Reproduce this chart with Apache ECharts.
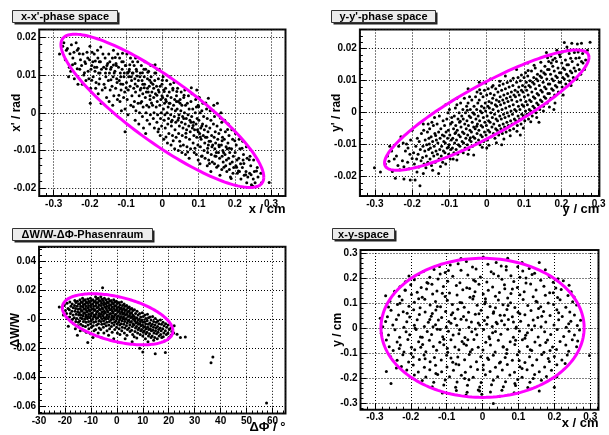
<!DOCTYPE html>
<html><head><meta charset="utf-8">
<script src="https://cdn.jsdelivr.net/npm/echarts@6/dist/echarts.min.js"></script>
<style>html,body{margin:0;padding:0;background:#fff}#c{width:609px;height:435px}</style>
</head><body><div id="c"></div>
<script>
// ---- panel titles and axis titles ----
const panelTitles = ["x-x'-phase space", "y-y'-phase space", "\u0394W/W-\u0394\u03A6-Phasenraum", "x-y-space"];
const xNames = ["x / cm", "y / cm", "\u0394\u03A6 / \u00B0", "x / cm"];
const yNames = ["x' / rad", "y' / rad", "\u0394W/W", "y / cm"];

// ---- ellipses: [centreX, centreY, halfWidthX, yAtMaxX, halfHeightAtCentre] ----
const ellipseXXp = [0, .0005, .28, -.0175, .0102];
const ellipseYYp = [0, .0008, .274, .0165, .009];
const ellipseWPhi = [.3, 0, 21.3, -.008, .0157];
const ellipseXY = [0, .002, .283, 0, .277];

// ---- particles: x-x' (cm, rad) ----
const pointsXXp = [
[-.284,.0155],[-.272,.0185],[-.268,.014],[-.262,.017],[-.257,.012],[-.259,.0095],[-.251,.018],[-.247,.0145],[-.253,.011],[-.244,.016],
[-.238,.0185],[-.241,.013],[-.235,.0165],[-.243,.009],[-.232,.017],[-.228,.0115],[-.226,.014],[-.233,.0075],[-.219,.0155],[-.223,.0125],
[-.217,.010],[-.214,.0135],[-.221,.0075],[-.208,.016],[-.212,.013],[-.205,.011],[-.211,.0085],[-.206,.0145],[-.199,.0025],[-.201,.014],
[-.197,.0115],[-.203,.009],[-.195,.0125],[-.198,.0065],[-.194,.016],[-.188,.0155],[-.192,.0135],[-.186,.011],[-.191,.0095],[-.184,.0065],
[-.187,.012],[-.178,.0145],[-.181,.012],[-.176,.0105],[-.183,.008],[-.177,.005],[-.174,.0135],[-.179,.0165],[-.171,.0135],[-.168,.0115],
[-.173,.009],[-.166,.006],[-.169,.0025],[-.164,.0155],[-.172,.0105],[-.158,.0145],[-.162,.012],[-.156,.0095],[-.161,.0075],[-.154,.004],
[-.157,.0105],[-.153,.0125],[-.148,.0155],[-.151,.013],[-.146,.0105],[-.149,.0085],[-.144,.006],[-.147,.003],[-.143,.0115],[-.145,.0135],
[-.138,.0145],[-.141,.012],[-.136,.0095],[-.139,.007],[-.134,.0045],[-.137,.002],[-.133,.0105],[-.135,.0165],[-.128,.013],[-.131,.011],
[-.126,.009],[-.129,.0065],[-.124,.0035],[-.127,.0125],[-.123,.0155],[-.125,.008],[-.118,.0145],[-.121,.012],[-.116,.0105],[-.119,.0085],
[-.114,.006],[-.117,.003],[-.113,.0005],[-.115,.0095],[-.112,.0135],[-.108,.0135],[-.111,.0115],[-.106,.0095],[-.109,.0075],[-.104,.0055],
[-.107,.004],[-.103,.001],[-.105,.0105],[-.102,.0125],[-.098,.0155],[-.101,.0125],[-.096,.0105],[-.099,.008],[-.094,.006],[-.097,.0035],
[-.095,-.0005],[-.093,.0095],[-.092,.011],[-.103,-.005],[-.088,.0145],[-.091,.0115],[-.086,.0095],[-.089,.007],[-.084,.0045],[-.087,.002],
[-.083,.0105],[-.085,.0085],[-.082,.0135],[-.078,.0125],[-.081,.0105],[-.076,.009],[-.079,.0065],[-.074,.0055],[-.077,.003],[-.073,.0005],
[-.075,-.002],[-.072,.0115],[-.074,.0145],[-.068,.0135],[-.071,.011],[-.066,.0085],[-.069,.007],[-.064,.0045],[-.067,.0025],[-.063,0],
[-.065,-.003],[-.062,.0095],[-.061,.006],[-.058,.0125],[-.061,.0105],[-.056,.0085],[-.059,.0065],[-.054,.005],[-.057,.003],[-.053,.0015],
[-.055,-.001],[-.052,-.004],[-.051,.0115],[-.054,.0075],[-.048,.0135],[-.05,.0095],[-.046,.0115],[-.049,.0075],[-.044,.0055],[-.047,.004],
[-.043,.002],[-.045,0],[-.042,-.002],[-.046,-.0055],[-.041,.0065],[-.038,.011],[-.041,.009],[-.036,.007],[-.039,.0055],[-.034,.0035],
[-.037,.0015],[-.033,-.0005],[-.035,-.003],[-.032,.0125],[-.031,.008],[-.034,.0045],[-.028,.0125],[-.031,.0095],[-.026,.0075],[-.029,.0055],
[-.024,.004],[-.027,.002],[-.023,0],[-.025,-.0015],[-.022,-.004],[-.021,.0105],[-.024,.0065],[-.018,.0105],[-.021,.0085],[-.016,.007],
[-.019,.005],[-.014,.003],[-.017,.0015],[-.013,-.0005],[-.015,-.0025],[-.012,-.005],[-.011,.006],[-.014,.0115],[-.008,.0115],[-.011,.009],
[-.006,.007],[-.009,.0055],[-.004,.0035],[-.007,.002],[-.003,0],[-.005,-.0015],[-.002,-.0035],[-.006,-.006],[-.001,.0045],[.002,.0095],
[-.001,.0075],[.004,.006],[.001,.004],[.006,.0025],[.003,.001],[.007,-.0005],[.005,-.002],[.008,-.004],[.004,-.007],[.009,.0035],
[.012,.0085],[.009,.0065],[.014,.0045],[.011,.003],[.016,.0015],[.013,0],[.017,-.0015],[.015,-.003],[.018,-.0055],[.014,-.008],
[.019,.0025],[.022,.0075],[.019,.0055],[.024,.004],[.021,.0025],[.026,.001],[.023,-.0005],[.027,-.002],[.025,-.0035],[.028,-.006],
[.024,-.0085],[.029,.0065],[.032,.008],[.029,.006],[.034,.0035],[.031,.002],[.036,.0005],[.033,-.001],[.037,-.0025],[.035,-.0045],
[.038,-.0065],[.034,-.0095],[.039,.003],[.042,.0065],[.039,.0045],[.044,.003],[.041,.001],[.046,-.0005],[.043,-.002],[.047,-.0035],
[.045,-.0055],[.048,-.0075],[.044,-.01],[.049,.0025],[.052,.0055],[.049,.0035],[.054,.002],[.051,.0005],[.056,-.001],[.053,-.0025],
[.057,-.004],[.055,-.006],[.058,-.0085],[.054,-.0105],[.059,-.0015],[.062,.006],[.059,.004],[.064,.002],[.061,0],[.066,-.0015],
[.063,-.003],[.067,-.0045],[.065,-.0065],[.068,-.009],[.069,.0025],[.064,-.011],[.072,.0045],[.074,.001],[.071,-.0005],[.076,-.002],
[.073,-.0035],[.077,-.005],[.075,-.007],[.078,-.0095],[.074,-.012],[.079,-.0025],[.082,.005],[.079,.003],[.084,.001],[.081,-.001],
[.086,-.0025],[.083,-.004],[.087,-.006],[.085,-.008],[.088,-.0105],[.089,-.0045],[.092,.0035],[.095,.006],[.094,.0015],[.091,0],
[.096,-.0015],[.093,-.003],[.097,-.0045],[.095,-.0065],[.098,-.0085],[.094,-.011],[.099,-.0125],[.099,-.005],[.102,.004],[.099,.002],
[.104,0],[.101,-.002],[.106,-.004],[.103,-.0055],[.107,-.007],[.105,-.009],[.108,-.0115],[.104,-.0135],[.109,-.0035],[.112,.0025],
[.109,.0005],[.114,-.001],[.111,-.003],[.116,-.0045],[.113,-.006],[.117,-.008],[.115,-.01],[.118,-.012],[.119,-.0065],[.127,.0038],
[.122,.001],[.124,-.0015],[.121,-.0035],[.126,-.005],[.123,-.0065],[.127,-.0085],[.125,-.0105],[.128,-.0125],[.124,-.014],[.129,-.0075],
[.132,.0005],[.134,-.002],[.131,-.004],[.136,-.006],[.133,-.0075],[.137,-.009],[.135,-.011],[.138,-.013],[.134,-.0155],[.139,-.0085],
[.142,.002],[.144,-.001],[.141,-.003],[.146,-.005],[.143,-.0065],[.147,-.008],[.145,-.0095],[.148,-.0115],[.144,-.0135],[.149,-.0105],
[.152,.0025],[.154,-.0005],[.151,-.0035],[.156,-.0055],[.153,-.007],[.157,-.009],[.155,-.0105],[.158,-.012],[.154,-.014],[.159,-.0165],
[.156,-.0085],[.162,0],[.164,-.0025],[.161,-.0045],[.166,-.0065],[.163,-.0085],[.167,-.01],[.165,-.0115],[.168,-.013],[.164,-.015],
[.169,-.0105],[.172,-.002],[.174,-.005],[.171,-.007],[.176,-.009],[.173,-.011],[.177,-.0125],[.175,-.014],[.178,-.0155],[.179,-.0095],
[.182,-.003],[.184,-.006],[.181,-.008],[.186,-.0105],[.183,-.012],[.187,-.0135],[.185,-.015],[.188,-.017],[.192,-.0045],[.194,-.007],
[.191,-.0095],[.196,-.0115],[.193,-.013],[.197,-.0145],[.195,-.016],[.202,-.0055],[.204,-.0085],[.201,-.0105],[.206,-.0125],[.203,-.014],
[.207,-.016],[.212,-.007],[.214,-.0095],[.211,-.012],[.216,-.0135],[.213,-.0155],[.217,-.0175],[.222,-.0075],[.224,-.011],[.221,-.0145],
[.226,-.0165],[.223,-.0125],[.232,-.009],[.234,-.012],[.231,-.0155],[.236,-.017],[.233,-.0185],[.242,-.0115],[.244,-.014],[.241,-.016],
[.246,-.019],[.252,-.0125],[.254,-.0155],[.251,-.0175],[.256,-.0185],[.262,-.0145],[.264,-.017],[.261,-.0195],[.272,-.016],[.274,-.0185],
[.295,-.0184],
[-.265,.0165],[-.248,.0127],[-.229,.0156],[-.215,.0106],[-.2,.0176],[-.185,.0137],[-.17,.0174],[-.158,.0066],[-.142,.0087],[-.13,.0146],
[-.12,.0046],[-.11,.0157],[-.1,.0066],[-.09,.0127],[-.08,.0016],[-.07,.0097],[-.06,.0026],[-.05,.0066],[-.04,.0107],[-.03,.0026],
[-.02,.0127],[-.01,-.0043],[0,.0086],[.01,-.0064],[.02,.0096],[.03,-.0074],[.04,.0056],[.05,-.0088],[.06,.0046],[.07,-.0104],
[.08,.0066],[.09,-.0094],[.1,.0016],[.11,-.0114],[.12,.0026],[.13,-.0134],[.14,.0006],[.15,-.0144],[.16,-.0014],[.17,-.0144],
[.18,-.0044],[.19,-.0174],[.2,-.0074],[.21,-.0154],[.22,-.0094],[.23,-.0164],[.24,-.0124],[.25,-.0194],[.26,-.0154],[-.275,.0176],
[-.255,.0156],[-.235,.0116],[-.195,.0086],[-.175,.0076],[-.155,.0116],[-.135,.0126],[-.115,.0076],[-.095,.0106],[-.075,.0076],[-.055,.0106],
[-.035,.0086],[-.015,.0046],[.005,.0056],[.025,-.0024],[.045,-.0014],[.065,-.0054],[.085,-.0034],[.105,-.0064],[.125,-.0094],[.145,-.0114],
[.165,-.0074],[.185,-.0094],[.205,-.0144],[.225,-.0134],[.245,-.0164]
];

// ---- particles: y-y' (cm, rad) ----
const pointsYYp = [
[-.301,-.0172],[-.272,-.016],[-.266,-.0135],[-.253,-.0184],[-.248,-.0145],[-.255,-.012],[-.238,-.0165],[-.242,-.0135],[-.236,-.0105],
[-.222,-.0207],[-.222,-.0169],[-.226,-.015],[-.218,-.012],[-.224,-.0095],[-.208,-.0175],[-.212,-.0155],[-.206,-.013],[-.211,-.011],[-.204,-.0085],
[-.192,-.021],[-.194,-.016],[-.188,-.0145],[-.196,-.0125],[-.19,-.0105],[-.186,-.008],[-.179,-.0228],[-.182,-.017],[-.176,-.015],[-.184,-.013],
[-.178,-.0115],[-.181,-.009],[-.175,-.0065],[-.168,-.016],[-.172,-.014],[-.166,-.012],[-.171,-.0105],[-.165,-.0085],[-.169,-.0055],
[-.158,-.0155],[-.162,-.0135],[-.156,-.0115],[-.161,-.01],[-.155,-.008],[-.159,-.006],[-.157,-.0035],
[-.148,-.0165],[-.152,-.0145],[-.146,-.0125],[-.151,-.011],[-.145,-.009],[-.149,-.0075],[-.153,-.005],[-.147,-.003],
[-.138,-.0155],[-.142,-.0135],[-.136,-.012],[-.141,-.0105],[-.135,-.0085],[-.139,-.0065],[-.143,-.004],
[-.129,-.019],[-.128,-.0145],[-.132,-.013],[-.126,-.0115],[-.131,-.0095],[-.125,-.008],[-.129,-.006],[-.133,-.0035],[-.127,-.001],
[-.118,-.0155],[-.122,-.0135],[-.116,-.012],[-.121,-.0105],[-.115,-.009],[-.119,-.007],[-.123,-.005],[-.117,-.0025],
[-.108,-.014],[-.112,-.0125],[-.106,-.011],[-.111,-.0095],[-.105,-.008],[-.109,-.006],[-.113,-.004],[-.107,-.002],[-.104,0],
[-.098,-.0145],[-.102,-.013],[-.096,-.0115],[-.101,-.01],[-.095,-.0085],[-.099,-.007],[-.103,-.0055],[-.097,-.0035],[-.094,-.0015],[-.1,.001],
[-.088,-.0125],[-.092,-.011],[-.086,-.0095],[-.091,-.008],[-.085,-.0065],[-.089,-.005],[-.093,-.003],[-.087,-.001],[-.084,.0015],
[-.078,-.013],[-.082,-.0115],[-.076,-.01],[-.081,-.0085],[-.075,-.007],[-.079,-.0055],[-.083,-.004],[-.077,-.002],[-.074,0],[-.08,.0025],
[-.068,-.012],[-.072,-.0105],[-.066,-.009],[-.071,-.0075],[-.065,-.006],[-.069,-.0045],[-.073,-.003],[-.067,-.001],[-.064,.001],[-.07,.003],
[-.058,-.011],[-.062,-.0095],[-.056,-.008],[-.061,-.0065],[-.055,-.005],[-.059,-.0035],[-.063,-.002],[-.057,0],[-.054,.002],[-.06,.0045],
[-.048,-.0115],[-.052,-.01],[-.046,-.0085],[-.051,-.007],[-.045,-.0055],[-.049,-.004],[-.053,-.0025],[-.047,-.001],[-.044,.001],[-.05,.003],[-.046,.005],
[-.038,-.0105],[-.042,-.009],[-.036,-.0075],[-.041,-.006],[-.035,-.0045],[-.039,-.003],[-.043,-.0015],[-.037,0],[-.034,.002],[-.04,.004],
[-.028,-.0095],[-.032,-.008],[-.026,-.0065],[-.031,-.005],[-.025,-.0035],[-.029,-.002],[-.033,-.0005],[-.027,.001],[-.024,.003],[-.03,.005],[-.026,.0065],
[-.018,-.01],[-.022,-.0085],[-.016,-.007],[-.021,-.0055],[-.015,-.004],[-.019,-.0025],[-.023,-.001],[-.017,.0005],[-.014,.002],[-.02,.004],[-.016,.006],
[-.008,-.009],[-.012,-.0075],[-.006,-.006],[-.011,-.0045],[-.005,-.003],[-.009,-.0015],[-.013,0],[-.007,.0015],[-.004,.003],[-.01,.005],[-.006,.007],
[.002,-.0085],[-.002,-.007],[.004,-.0055],[-.001,-.004],[.005,-.0025],[.001,-.001],[-.003,.0005],[.003,.002],[.006,.0035],[0,.0055],[.004,.0075],
[.012,-.0075],[.008,-.006],[.014,-.0045],[.009,-.003],[.015,-.0015],[.011,0],[.007,.0015],[.013,.003],[.016,.0045],[.01,.006],[.014,.008],
[.022,-.008],[.018,-.0065],[.024,-.005],[.019,-.0035],[.025,-.002],[.021,-.0005],[.017,.001],[.023,.0025],[.026,.004],[.02,.0055],[.024,.0075],
[.032,-.007],[.028,-.0055],[.034,-.004],[.029,-.0025],[.035,-.001],[.031,.0005],[.027,.002],[.033,.0035],[.036,.005],[.03,.0065],[.034,.0085],
[.042,-.0065],[.038,-.005],[.044,-.0035],[.039,-.002],[.045,-.0005],[.041,.001],[.037,.0025],[.043,.004],[.046,.0055],[.04,.007],[.044,.009],
[.052,-.006],[.048,-.0045],[.054,-.003],[.049,-.0015],[.055,0],[.051,.0015],[.047,.003],[.053,.0045],[.056,.006],[.05,.0075],
[.062,-.0055],[.058,-.004],[.064,-.0025],[.059,-.001],[.065,.0005],[.061,.002],[.057,.0035],[.063,.005],[.066,.0065],[.06,.008],[.064,.01],
[.072,-.005],[.068,-.0035],[.074,-.002],[.069,-.0005],[.075,.001],[.071,.0025],[.067,.004],[.073,.0055],[.076,.007],[.07,.0085],
[.082,-.004],[.078,-.0025],[.084,-.001],[.079,.0005],[.085,.002],[.081,.0035],[.077,.005],[.083,.0065],[.086,.008],[.08,.0095],[.084,.011],
[.092,-.0035],[.088,-.002],[.094,-.0005],[.089,.001],[.095,.0025],[.091,.004],[.087,.0055],[.093,.007],[.096,.0085],[.09,.01],
[.102,-.0025],[.098,-.001],[.104,.0005],[.099,.002],[.105,.0035],[.101,.005],[.097,.0065],[.103,.008],[.106,.0095],[.1,.011],[.104,.0125],
[.112,-.002],[.108,-.0005],[.114,.001],[.109,.0025],[.115,.004],[.111,.0055],[.107,.007],[.113,.0085],[.116,.01],[.11,.0115],
[.122,-.001],[.118,.0005],[.124,.002],[.119,.0035],[.125,.005],[.121,.0065],[.117,.008],[.123,.0095],[.126,.011],[.12,.013],
[.132,0],[.128,.0015],[.134,.003],[.129,.0045],[.135,.006],[.131,.0075],[.127,.009],[.133,.0105],[.136,.012],[.13,.014],
[.142,.001],[.138,.0025],[.144,.004],[.139,.0055],[.145,.007],[.141,.0085],[.137,.01],[.143,.0115],[.146,.013],
[.152,.002],[.148,.0035],[.154,.005],[.149,.0065],[.155,.008],[.151,.0095],[.147,.011],[.153,.0125],[.156,.0145],
[.162,.003],[.158,.0045],[.164,.006],[.159,.0075],[.165,.009],[.161,.0105],[.157,.012],[.163,.0135],[.166,.016],
[.172,.0045],[.168,.006],[.174,.0075],[.169,.009],[.175,.0105],[.171,.012],[.167,.0135],[.173,.0155],[.172,.0177],
[.182,.0055],[.178,.007],[.184,.0085],[.179,.01],[.185,.0115],[.181,.013],[.177,.0145],[.183,.017],
[.192,.0065],[.188,.008],[.194,.0095],[.189,.011],[.195,.0125],[.191,.014],[.187,.016],
[.202,.008],[.198,.0095],[.204,.011],[.199,.0125],[.205,.014],[.201,.0155],[.197,.0175],[.203,.019],
[.212,.009],[.208,.0105],[.214,.012],[.209,.0135],[.215,.015],[.211,.0165],[.208,.0219],
[.222,.01],[.218,.0115],[.224,.013],[.219,.015],[.225,.017],[.221,.0185],
[.232,.011],[.228,.0125],[.234,.014],[.229,.016],[.228,.0217],
[.242,.0105],[.238,.013],[.244,.015],[.239,.017],[.245,.019],
[.252,.012],[.248,.0135],[.254,.016],[.254,.0217],[.262,.0135],[.258,.0155],[.27,.0195],[.277,.022],
[-.285,-.0185],[-.262,-.0152],[-.233,-.0178],[-.215,-.0098],[-.2,-.0143],[-.187,-.0185],[-.163,-.0172],[-.154,-.0098],[-.137,-.0071],[-.124,-.0168],
[-.114,-.0073],[-.103,-.0108],[-.09,-.0145],[-.083,-.0062],[-.071,-.0027],[-.063,-.0125],[-.052,.0008],[-.044,-.0078],[-.035,-.0132],[-.027,-.0042],
[-.019,.0072],[-.012,-.0108],[-.003,.0093],[.006,-.0102],[.017,.0085],[.026,-.0094],[.035,.0098],[.046,-.0082],[.055,.0094],[.063,-.0072],
[.071,.0108],[.081,-.0058],[.093,.0118],[.098,-.0048],[.111,.0132],[.118,-.0028],[.127,.0148],[.134,-.0015],[.145,.0158],[.152,.0005],
[.163,.0172],[.168,.0018],[.177,.0165],[.183,.003],[.195,.0182],[.205,.0055],[.217,.0195],[.226,.0085],[.235,.0188],[.248,.0172],
[.257,.0185],[.265,.0165],[.243,.0215],[.215,.0205],[.188,.0195],[.16,.0188],[-.245,-.0205],[-.205,-.021],[-.17,-.019],[-.145,-.018],
[-.11,-.016],[-.08,-.0148],[-.05,-.013],[0,-.011],[.04,-.01],[.09,-.007],[.14,-.003],[.18,.001],[-.26,-.0105],[-.23,-.0075],
[-.2,-.0055],[-.17,-.0035],[-.14,-.0015],[-.11,.0025],[-.08,.0045],[-.05,.0075],[-.02,.0095],[.01,.0105],[.05,.0115],[.08,.0135],[.11,.0155]
];

// ---- particles: dPhi (deg) vs dW/W ----
const pointsWPhi = [
[-22.2,.0085],[-20.3,.0095],[-19.8,.006],[-20.6,.003],
[-19.2,.011],[-18.8,.0075],[-19.4,.004],[-18.7,-.0048],[-18.9,.001],
[-18.1,.012],[-17.7,.009],[-18.3,.0065],[-17.9,.004],[-18.2,.0015],[-17.6,-.001],
[-17.2,.0105],[-16.8,.008],[-17.3,.0055],[-16.9,.003],[-17.1,0],[-16.7,-.003],
[-16.2,.013],[-15.8,.0115],[-16.3,.0095],[-15.9,.0075],[-16.1,.0055],[-15.7,.0035],[-16.4,.001],[-15.8,-.0015],[-16,-.0065],
[-15.2,.0125],[-14.8,.0105],[-15.3,.009],[-14.9,.007],[-15.1,.005],[-14.7,.003],[-15.4,.0005],[-14.8,-.002],[-15.2,-.011],[-15,-.0045],
[-14.2,.0135],[-13.8,.012],[-14.3,.0105],[-13.9,.009],[-14.1,.0075],[-13.7,.006],[-14.4,.0045],[-13.8,.003],[-14,.001],[-14.3,-.001],[-13.9,-.0035],[-14.1,-.008],
[-13.2,.0145],[-12.8,.013],[-13.3,.0115],[-12.9,.01],[-13.1,.0085],[-12.7,.007],[-13.4,.0055],[-12.8,.004],[-13,.0025],[-13.3,.0005],[-12.9,-.0015],[-13.1,-.0045],[-12.8,-.0075],
[-12.2,.0135],[-11.8,.012],[-12.3,.0105],[-11.9,.009],[-12.1,.0075],[-11.7,.006],[-12.4,.0045],[-11.8,.003],[-12,.0015],[-12.3,0],[-11.9,-.002],[-12.1,-.005],[-11.8,-.009],
[-11.2,.014],[-10.8,.0125],[-11.3,.011],[-10.9,.0095],[-11.1,.008],[-10.7,.0065],[-11.4,.005],[-10.8,.0035],[-11,.002],[-11.3,.0005],[-10.9,-.0015],[-11.1,-.004],[-11.2,-.016],[-10.8,-.0065],
[-10.2,.0145],[-9.8,.013],[-10.3,.0115],[-9.9,.01],[-10.1,.0085],[-9.7,.007],[-10.4,.0055],[-9.8,.004],[-10,.0025],[-10.3,.001],[-9.9,-.001],[-10.1,-.003],[-9.8,-.0055],[-10.2,-.01],
[-9.2,.0135],[-8.8,.012],[-9.3,.0105],[-8.9,.009],[-9.1,.0075],[-8.7,.006],[-9.4,.0045],[-8.8,.003],[-9,.0015],[-9.3,0],[-8.9,-.002],[-9.1,-.0045],[-8.8,-.008],[-9.2,-.0125],
[-8.2,.0155],[-7.8,.014],[-8.3,.0125],[-7.9,.011],[-8.1,.0095],[-7.7,.008],[-8.4,.0065],[-7.8,.005],[-8,.0035],[-8.3,.002],[-7.9,.0005],[-8.1,-.0015],[-7.8,-.004],[-8.2,-.007],
[-7.2,.0145],[-6.8,.013],[-7.3,.0115],[-6.9,.01],[-7.1,.0085],[-6.7,.007],[-7.4,.0055],[-6.8,.004],[-7,.0025],[-7.3,.001],[-6.9,-.001],[-7.1,-.003],[-6.8,-.006],[-7.2,-.0095],
[-6.2,.0155],[-5.8,.014],[-6.3,.0125],[-5.9,.011],[-6.1,.0095],[-5.7,.008],[-6.4,.0065],[-5.8,.005],[-6,.0035],[-6.3,.002],[-5.9,.0005],[-6.1,-.0015],[-5.8,-.0035],[-6.2,-.007],[-6,-.0125],
[-5.5,.0218],[-4.8,.0145],[-5.3,.013],[-4.9,.0115],[-5.1,.01],[-4.7,.0085],[-5.4,.007],[-4.8,.0055],[-5,.004],[-5.3,.0025],[-4.9,.001],[-5.1,-.001],[-4.8,-.003],[-5.2,-.0055],[-5,-.0095],
[-4.2,.0135],[-3.8,.012],[-4.3,.0105],[-3.9,.009],[-4.1,.0075],[-3.7,.006],[-4.4,.0045],[-3.8,.003],[-4,.0015],[-4.3,0],[-3.9,-.002],[-4.1,-.0045],[-3.8,-.008],
[-3.2,.014],[-2.8,.0125],[-3.3,.011],[-2.9,.0095],[-3.1,.008],[-2.7,.0065],[-3.4,.005],[-2.8,.0035],[-3,.002],[-3.3,.0005],[-2.9,-.0015],[-3.1,-.004],[-2.8,-.0065],[-3.2,-.011],
[-2.2,.013],[-1.8,.0115],[-2.3,.01],[-1.9,.0085],[-2.1,.007],[-1.7,.0055],[-2.4,.004],[-1.8,.0025],[-2,.001],[-2.3,-.0005],[-1.9,-.0025],[-2.1,-.005],[-1.8,-.009],
[-1.2,.0135],[-.8,.012],[-1.3,.0105],[-.9,.009],[-1.1,.0075],[-.7,.006],[-1.4,.0045],[-.8,.003],[-1,.0015],[-1.3,0],[-.9,-.002],[-1.1,-.004],[-.8,-.007],[-1.2,-.0135],
[-.2,.0125],[.2,.011],[-.3,.0095],[.1,.008],[-.1,.0065],[.3,.005],[-.4,.0035],[.2,.002],[0,.0005],[-.3,-.001],[.1,-.003],[-.1,-.0055],[.2,-.0095],
[.8,.0115],[1.2,.01],[.7,.0085],[1.1,.007],[.9,.0055],[1.3,.004],[.6,.0025],[1.2,.001],[1,-.0005],[.7,-.002],[1.1,-.004],[.9,-.0065],[1.2,-.0105],
[1.8,.012],[2.2,.0095],[1.7,.008],[2.1,.0065],[1.9,.005],[2.3,.0035],[1.6,.002],[2.2,.0005],[2,-.001],[1.7,-.003],[2.1,-.0055],[1.9,-.008],
[2.8,.0105],[3.2,.009],[2.7,.0075],[3.1,.006],[2.9,.0045],[3.3,.003],[2.6,.0015],[3.2,0],[3,-.0015],[2.7,-.0035],[3.1,-.006],[2.9,-.0095],[3.2,-.0135],
[3.8,.0095],[4.2,.008],[3.7,.0065],[4.1,.005],[3.9,.0035],[4.3,.002],[3.6,.0005],[4.2,-.001],[4,-.0025],[3.7,-.0045],[4.1,-.007],[3.9,-.011],
[4.8,.0085],[5.2,.007],[4.7,.0055],[5.1,.004],[4.9,.0025],[5.3,.001],[4.6,-.0005],[5.2,-.002],[5,-.004],[4.7,-.006],[5.1,-.0085],
[5.8,.0075],[6.2,.006],[5.7,.0045],[6.1,.003],[5.9,.0015],[6.3,0],[5.6,-.0015],[6.2,-.003],[6,-.005],[5.7,-.0075],[6.1,-.0105],[5.9,-.0155],
[6.8,.0065],[7.2,.004],[6.7,.002],[7.1,.0005],[6.9,-.001],[7.3,-.0025],[6.6,-.004],[7.2,-.006],[7,-.0085],[6.7,-.012],
[7.8,.0055],[8.2,.003],[7.7,.001],[8.1,-.0005],[7.9,-.002],[8.3,-.0035],[7.6,-.005],[8.2,-.007],[8,-.0095],[7.7,-.013],
[8.8,.004],[9.2,.0015],[8.7,0],[9.1,-.0015],[8.9,-.003],[9.3,-.0045],[8.6,-.006],[9.2,-.008],[9,-.0105],[8.8,-.02],
[9.8,.0045],[10.2,.002],[9.7,-.0005],[10.1,-.002],[9.9,-.004],[10.3,-.0055],[9.6,-.007],[10.2,-.009],[10,-.0115],[10,-.0225],
[10.8,.003],[11.2,.0005],[10.7,-.0015],[11.1,-.003],[10.9,-.005],[11.3,-.0065],[10.6,-.008],[11.2,-.01],[11,-.0135],
[11.8,.0035],[12.2,.001],[11.7,-.001],[12.1,-.0035],[11.9,-.0055],[12.3,-.007],[11.6,-.009],[12.2,-.0115],[12,-.0155],
[12.8,.0015],[13.2,-.0005],[12.7,-.0025],[13.1,-.0045],[12.9,-.0065],[13.3,-.008],[12.6,-.01],[13.2,-.0125],
[13.8,.002],[14.2,-.0015],[13.7,-.0035],[14.1,-.0055],[13.9,-.0075],[14.3,-.0095],[13.6,-.0115],[14.2,-.0145],
[14.8,.0005],[15.2,-.002],[14.7,-.004],[15.1,-.006],[14.9,-.008],[15.3,-.01],[14.6,-.0125],[14.8,-.0237],
[15.8,-.001],[16.2,-.003],[15.7,-.005],[16.1,-.007],[15.9,-.009],[16.3,-.0115],[15.6,-.0135],
[16.8,-.0005],[17.2,-.0035],[16.7,-.006],[17.1,-.008],[16.9,-.0105],[17.3,-.0125],
[17.8,-.002],[18.2,-.0045],[17.7,-.0065],[18.1,-.0095],[17.9,-.012],[18.3,-.015],
[18.8,-.003],[19.2,-.0055],[18.7,-.008],[19.1,-.0105],[18.7,-.023],
[19.8,-.004],[20.2,-.007],[19.7,-.0095],[20.1,-.0125],[20.8,-.006],[21.2,-.0085],[20.9,-.011],
[22.1,-.0045],[21.9,-.0095],[23.2,-.0103],[24.5,-.0126],[26.4,-.0122],[36.3,-.030],[37,-.026],[57.7,-.0577]
];

// ---- particles: x-y (cm, cm) ----
const pointsXY = [
[-.045,.266],[.002,.284],[.038,.262],[.07,.279],[-.068,.257],
[-.12,.246],[-.09,.252],[-.028,.244],[.015,.255],[.052,.248],[.098,.245],[.158,.262],[.13,.238],
[-.165,.226],[-.135,.234],[-.104,.222],[-.06,.231],[-.018,.236],[.024,.225],[.066,.232],[.112,.228],[.145,.219],[.175,.233],
[-.205,.208],[-.178,.214],[-.147,.203],[-.118,.216],[-.083,.207],[-.041,.212],[-.006,.204],[.031,.217],[.079,.209],[.104,.203],[.138,.214],[.186,.206],[.21,.198],
[-.215,.186],[-.19,.194],[-.155,.183],[-.124,.197],[-.097,.188],[-.063,.182],[-.025,.193],[.012,.185],[.054,.196],[.087,.187],[.121,.181],[.162,.192],[.197,.184],[.225,.19],
[-.23,.166],[-.2,.174],[-.171,.163],[-.141,.176],[-.109,.167],[-.073,.171],[-.044,.162],[-.01,.176],[.028,.165],[.061,.174],[.097,.163],[.134,.177],[.171,.168],[.204,.161],[.241,.172],
[-.245,.148],[-.216,.153],[-.182,.144],[-.156,.157],[-.127,.149],[-.092,.141],[-.055,.154],[-.021,.146],[.016,.152],[.047,.143],[.083,.157],[.116,.146],[.149,.153],[.187,.142],[.219,.155],[.247,.146],
[-.27,.13],[-.232,.128],[-.198,.135],[-.168,.124],[-.139,.137],[-.104,.127],[-.071,.133],[-.035,.124],[.002,.137],[.036,.128],[.07,.121],[.104,.134],[.141,.126],[.175,.132],[.209,.123],[.238,.131],
[-.258,.108],[-.224,.113],[-.19,.104],[-.161,.116],[-.131,.107],[-.098,.112],[-.063,.103],[-.027,.117],[.008,.106],[.044,.113],[.078,.102],[.113,.115],[.149,.108],[.183,.101],[.216,.114],[.251,.106],
[-.262,.085],[-.237,.095],[-.205,.088],[-.174,.082],[-.146,.093],[-.117,.086],[-.084,.095],[-.051,.084],[-.015,.092],[.021,.087],[.057,.094],[.09,.083],[.126,.091],[.162,.086],[.198,.095],[.232,.084],[.262,.093],
[-.255,.072],[-.221,.066],[-.192,.074],[-.16,.065],[-.13,.073],[-.103,.067],[-.069,.076],[-.039,.064],[-.004,.072],[.031,.066],[.068,.075],[.099,.064],[.135,.071],[.17,.067],[.207,.074],[.243,.065],
[-.265,.046],[-.234,.053],[-.203,.045],[-.176,.055],[-.143,.048],[-.114,.043],[-.087,.054],[-.053,.047],[-.02,.056],[.014,.044],[.049,.052],[.083,.046],[.118,.054],[.154,.043],[.188,.051],[.222,.047],[.256,.053],
[-.27,.027],[-.24,.035],[-.211,.026],[-.182,.034],[-.151,.024],[-.123,.033],[-.094,.027],[-.06,.036],[-.031,.025],[.005,.031],[.038,.024],[.072,.035],[.106,.028],[.141,.033],[.176,.025],[.212,.034],[.246,.028],[.273,.032],
[-.278,.006],[-.25,.013],[-.219,.004],[-.19,.012],[-.162,.007],[-.131,.014],[-.101,.005],[-.072,.012],[-.038,.004],[-.008,.013],[.027,.007],[.061,.014],[.094,.005],[.128,.012],[.163,.006],[.199,.013],[.233,.004],[.264,.011],
[-.282,-.02],[-.244,-.006],[-.213,-.014],[-.185,-.005],[-.154,-.013],[-.126,-.004],[-.095,-.012],[-.064,-.006],[-.03,-.014],[.003,-.005],[.036,-.013],[.07,-.004],[.103,-.011],[.137,-.006],[.173,-.014],[.208,-.005],[.241,-.012],[.27,-.007],
[-.262,-.027],[-.231,-.035],[-.203,-.026],[-.173,-.034],[-.142,-.025],[-.111,-.033],[-.082,-.027],[-.049,-.036],[-.016,-.026],[.018,-.033],[.051,-.024],[.086,-.035],[.12,-.028],[.155,-.034],[.19,-.025],[.226,-.032],[.256,-.027],
[-.268,-.046],[-.238,-.054],[-.208,-.044],[-.178,-.053],[-.148,-.047],[-.119,-.055],[-.088,-.045],[-.057,-.052],[-.024,-.044],[.009,-.055],[.044,-.047],[.077,-.053],[.111,-.045],[.146,-.054],[.181,-.046],[.216,-.052],[.25,-.045],
[-.26,-.073],[-.229,-.066],[-.198,-.075],[-.167,-.064],[-.137,-.072],[-.108,-.065],[-.077,-.074],[-.045,-.067],[-.012,-.075],[.022,-.066],[.057,-.073],[.09,-.064],[.125,-.072],[.16,-.067],[.195,-.074],[.232,-.066],[.262,-.073],
[-.249,-.088],[-.219,-.094],[-.189,-.085],[-.158,-.093],[-.128,-.087],[-.097,-.095],[-.066,-.085],[-.034,-.093],[.001,-.086],[.035,-.094],[.068,-.084],[.102,-.092],[.137,-.088],[.171,-.095],[.206,-.084],[.24,-.091],
[-.256,-.113],[-.222,-.105],[-.193,-.114],[-.163,-.106],[-.134,-.116],[-.1,-.107],[-.069,-.114],[-.037,-.104],[-.005,-.113],[.03,-.107],[.063,-.116],[.097,-.105],[.131,-.113],[.165,-.104],[.2,-.112],[.236,-.106],[.298,-.108],
[-.238,-.127],[-.206,-.134],[-.176,-.124],[-.146,-.133],[-.115,-.126],[-.083,-.135],[-.05,-.125],[-.017,-.133],[.017,-.124],[.05,-.134],[.083,-.127],[.118,-.136],[.151,-.125],[.186,-.132],[.221,-.126],
[-.226,-.152],[-.193,-.146],[-.162,-.155],[-.131,-.147],[-.099,-.154],[-.066,-.145],[-.033,-.153],[.002,-.146],[.036,-.155],[.069,-.144],[.104,-.153],[.139,-.147],[.173,-.154],[.207,-.145],
[-.268,-.172],[-.211,-.166],[-.179,-.174],[-.147,-.165],[-.114,-.173],[-.081,-.167],[-.048,-.175],[-.014,-.164],[.021,-.172],[.055,-.166],[.089,-.175],[.124,-.165],[.158,-.173],[.192,-.167],
[-.19,-.186],[-.158,-.194],[-.125,-.184],[-.092,-.193],[-.059,-.187],[-.026,-.195],[.008,-.185],[.042,-.193],[.076,-.186],[.11,-.195],[.145,-.184],[.178,-.192],
[-.255,-.22],[-.168,-.208],[-.136,-.215],[-.104,-.206],[-.071,-.214],[-.038,-.205],[-.004,-.216],[.03,-.207],[.064,-.213],[.098,-.204],[.132,-.215],[.164,-.207],[.2,-.235],
[-.14,-.233],[-.108,-.226],[-.075,-.235],[-.042,-.227],[-.008,-.234],[.025,-.225],[.058,-.233],[.092,-.228],[.126,-.236],[.158,-.25],
[-.112,-.257],[-.073,-.248],[-.043,-.255],[-.012,-.246],[.022,-.254],[.054,-.247],[.088,-.256],
[-.046,-.265],[-.002,-.262],[.03,-.299],[.047,-.27],
[-.012,.021],[.041,.018],[-.077,.039],[.093,0],[-.14,.059],[.156,.079],[-.188,0],[.02,-.041],[-.052,-.061],[.118,-.039],
[-.098,-.079],[.067,-.1],[-.16,-.121],[.183,-.12],[.006,.098],[-.036,.159],[.079,.139],[-.112,.14],[.121,.2],[-.21,.06],
[.24,.018],[-.232,-.08],[.23,-.14],[-.05,-.2],[.09,-.22],[-.13,-.18],[.03,.06],[-.02,-.003],[.053,.03],[-.088,.02],
[-.126,.087],[.008,.118],[.104,.058],[-.058,.102],[.145,.01],[.176,-.056],[-.029,-.084],[.047,-.138],[-.074,-.142],[.11,-.16],
[-.199,-.1],[-.178,.118],[.197,.142],[.066,.246],[-.152,.18],[-.008,-.25],[.141,-.2],[-.23,.1],[.265,-.05],[-.285,.04],
[-.24,-.158],[.012,.016],[-.045,.033],[.086,.025],[.028,-.018],[-.066,-.022],[.152,.105],[-.108,-.043],[.133,-.085],[-.168,-.035],
[.212,.062],[-.02,.188],[.044,.208],[-.095,.23],[.092,-.047],[-.138,.006],[.071,.091],[-.01,.058],[.058,-.074],[.002,-.165],
[-.215,.152],[.207,-.193],[.255,.125],[-.06,.278],[.11,.262],[-.118,-.005],[.125,-.018],[-.083,.062],[.061,.052],[-.041,-.045],
[.036,.082],[-.147,.035],[.165,.048],[-.172,-.075],[.188,-.088],[.014,-.118],[-.088,-.118],[.102,-.128],[-.025,.128],[.062,.158]
];

// ---------------- layout / style (not data) ----------------
const FONT = '"Liberation Sans", Arial, Helvetica, sans-serif';
const panels = [
  {left:39.2, top:29.5, width:246.3, height:166.5, xMin:-0.34, xMax:0.34, yMin:-0.022, yMax:0.022, xSplit:6, ySplit:4},
  {left:359.9, top:29.5, width:239.5, height:166.4, xMin:-0.34, xMax:0.302, yMin:-0.026, yMax:0.026, xSplit:6, ySplit:5},
  {left:39, top:246.8, width:246.5, height:166.7, xMin:-30, xMax:65, yMin:-0.065, yMax:0.05, xSplit:9, ySplit:6},
  {left:360.5, top:250, width:238, height:159.7, xMin:-0.34, xMax:0.323, yMin:-0.324, yMax:0.312, xSplit:6, ySplit:6}
];
const titleBoxes = [[12.5,10.5,105,12],[331.5,10.5,104,12],[12.5,228.5,140,12],[332.5,228.5,62,11]];
const pointSets = [pointsXXp, pointsYYp, pointsWPhi, pointsXY];
const ellipses = [ellipseXXp, ellipseYYp, ellipseWPhi, ellipseXY];

function ellipseRenderer(e){
  return function(params, api){
    const pts = [];
    const n = 180;
    for (let i = 0; i <= n; i++) {
      const t = i / n * Math.PI * 2;
      pts.push(api.coord([e[0] + e[2]*Math.cos(t), e[1] + e[3]*Math.cos(t) + e[4]*Math.sin(t)]));
    }
    return {type:'polyline', shape:{points:pts}, style:{stroke:'#ff00ff', lineWidth:3, fill:null}};
  };
}

const grids = [], xAxes = [], yAxes = [], series = [];
panels.forEach((p, i) => {
  grids.push({left:p.left, top:p.top, width:p.width, height:p.height, show:true,
    backgroundColor:'transparent', borderColor:'#111', borderWidth:2, containLabel:false, outerBoundsMode:'none'});
  const common = {
    gridIndex:i, type:'value', nameMoveOverlap:false,
    axisLine:{show:false, onZero:false},
    axisTick:{show:true, inside:true, length:6, lineStyle:{color:'#000', width:1}},
    minorTick:{show:true, splitNumber:5, length:3, lineStyle:{color:'#000', width:1}},
    splitLine:{show:true, lineStyle:{color:'#000', width:1, type:[1,2]}}
  };
  xAxes.push(Object.assign({}, common, {
    position:'bottom', min:p.xMin, max:p.xMax, splitNumber:p.xSplit,
    axisLabel:{color:'#000', fontSize:10, fontWeight:'bold', fontFamily:FONT, margin:3,
      showMinLabel: i === 2, showMaxLabel:false},
    name:xNames[i], nameLocation:'end', nameGap:0,
    nameTextStyle:{color:'#000', fontSize:13, fontWeight:'bold', fontFamily:FONT,
      align:'right', verticalAlign:'top', padding:[7,0,0,0]}
  }));
  yAxes.push(Object.assign({}, common, {
    position:'left', min:p.yMin, max:p.yMax, splitNumber:p.ySplit,
    axisLabel:{color:'#000', fontSize:10, fontWeight:'bold', fontFamily:FONT, margin:3,
      showMinLabel:false, showMaxLabel:false,
      formatter: i === 2 ? (v => (v === 0 ? '-0' : String(v))) : null},
    name:yNames[i], nameLocation:'middle', nameGap:17, nameRotate:90,
    nameTextStyle:{color:'#000', fontSize:12, fontWeight:'bold', fontFamily:FONT}
  }));
  series.push({type:'scatter', xAxisIndex:i, yAxisIndex:i, data:pointSets[i],
    symbol:'circle', symbolSize:3, itemStyle:{color:'#000', opacity:1}, silent:true, z:3});
  series.push({type:'custom', xAxisIndex:i, yAxisIndex:i, data:[[ellipses[i][0], ellipses[i][1]]],
    renderItem: ellipseRenderer(ellipses[i]), silent:true, z:5, clip:false});
});

const graphic = titleBoxes.map((b, i) => ({
  type:'group', silent:true, children:[
    {type:'rect', shape:{x:b[0]+2, y:b[1]+2, width:b[2], height:b[3]}, style:{fill:'#222'}},
    {type:'rect', shape:{x:b[0], y:b[1], width:b[2], height:b[3]}, style:{fill:'#ececec', stroke:'#333', lineWidth:1}},
    {type:'text', x:b[0]+b[2]/2, y:b[1]+b[3]/2+0.5,
      style:{text:panelTitles[i], font:'bold 11px ' + FONT, fill:'#000', align:'center', verticalAlign:'middle'}}
  ]
}));

const chart = echarts.init(document.getElementById('c'), null, {renderer:'canvas'});
chart.setOption({
  animation:false, backgroundColor:'#fff',
  grid:grids, xAxis:xAxes, yAxis:yAxes, series:series, graphic:graphic
});
</script></body></html>
